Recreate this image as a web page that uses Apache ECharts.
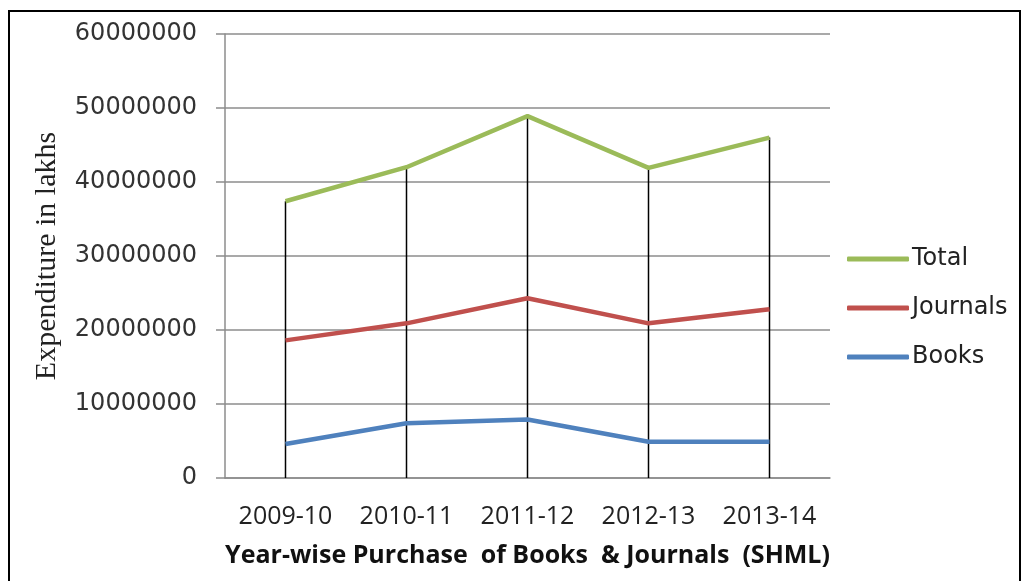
<!DOCTYPE html>
<html>
<head>
<meta charset="utf-8">
<script src="https://cdn.jsdelivr.net/npm/echarts@6/dist/echarts.min.js"></script>
<style>
html,body{margin:0;padding:0;background:#fff;}
#frame{position:absolute;left:8px;top:10px;width:1013px;height:600px;border:2px solid #000;box-sizing:border-box;}
#chart{position:absolute;left:0;top:0;width:1024px;height:581px;}
</style>
</head>
<body>
<div id="frame"></div>
<div id="chart"></div>
<script>
const categories = ['2009-10', '2010-11', '2011-12', '2012-13', '2013-14'];
const totalValues = [37400000, 42000000, 48900000, 41900000, 46000000];
const journalValues = [18600000, 20900000, 24300000, 20900000, 22800000];
const bookValues = [4600000, 7400000, 7900000, 4900000, 4900000];
const yTicks = { min: 0, max: 60000000, interval: 10000000 };

const chart = echarts.init(document.getElementById('chart'), null, { renderer: 'canvas' });
chart.setOption({
  animation: false,
  backgroundColor: 'transparent',
  grid: { left: 225, right: 194, top: 34, bottom: 103 },
  legend: {
    orient: 'vertical', left: 842, top: 242,
    itemWidth: 62, itemHeight: 5, itemGap: 25, icon: 'roundRect',
    data: ['Total', 'Journals', 'Books'],
    textStyle: { fontFamily: 'DejaVu Sans', fontSize: 24, color: '#222', padding: [0, 0, 0, -2] }
  },
  xAxis: {
    type: 'category', data: categories, boundaryGap: true,
    axisLine: { lineStyle: { color: '#8c8c8c', width: 1.5 } },
    axisTick: { show: false },
    axisLabel: { interval: 0, hideOverlap: false, fontFamily: 'Open Sans', fontSize: 25, color: '#222', margin: 26 },
    name: 'Year-wise Purchase  of Books  & Journals  (SHML)',
    nameLocation: 'middle', nameGap: 65,
    nameTextStyle: { fontFamily: 'Open Sans', fontWeight: 'bold', fontSize: 25, color: '#111' }
  },
  yAxis: {
    type: 'value', min: yTicks.min, max: yTicks.max, interval: yTicks.interval,
    axisLine: { show: true, lineStyle: { color: '#8c8c8c', width: 1.5 } },
    axisTick: { show: true, length: 9, lineStyle: { color: '#8c8c8c', width: 1.5 } },
    splitLine: { lineStyle: { color: '#8c8c8c', width: 1.5 } },
    axisLabel: { fontFamily: 'DejaVu Sans', fontSize: 24, color: '#333', margin: 28,
      formatter: function (v) { return String(v); } },
    name: 'Expenditure in lakhs', nameLocation: 'middle', nameRotate: 90, nameGap: 163,
    nameTextStyle: { fontFamily: 'Liberation Serif', fontSize: 30, color: '#222' }
  },
  series: [
    { name: 'drop', type: 'bar', data: totalValues, barWidth: 1.5, silent: true, z: 1,
      itemStyle: { color: '#000' } },
    { name: 'Total', type: 'line', data: totalValues, showSymbol: false, z: 3,
      lineStyle: { color: '#9BBB59', width: 4.5 }, itemStyle: { color: '#9BBB59' } },
    { name: 'Journals', type: 'line', data: journalValues, showSymbol: false, z: 3,
      lineStyle: { color: '#C0504D', width: 4.5 }, itemStyle: { color: '#C0504D' } },
    { name: 'Books', type: 'line', data: bookValues, showSymbol: false, z: 3,
      lineStyle: { color: '#4F81BD', width: 4.5 }, itemStyle: { color: '#4F81BD' } }
  ]
});
</script>
</body>
</html>
